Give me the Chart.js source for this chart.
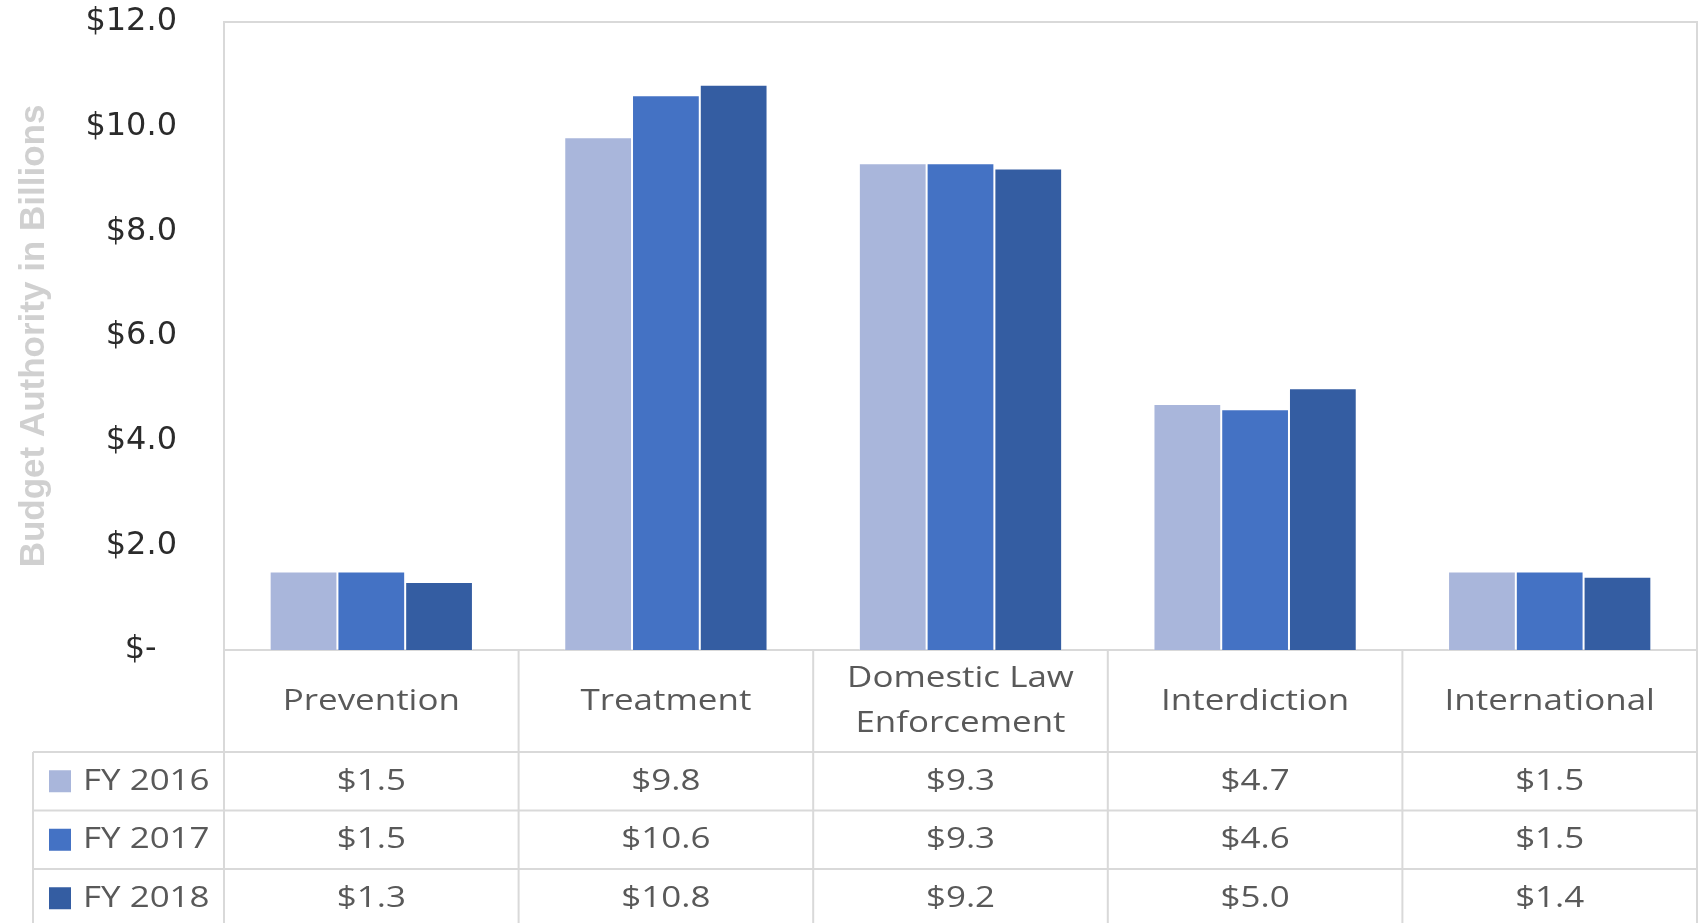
<!DOCTYPE html>
<html lang="en">
<head>
<meta charset="utf-8">
<title>Budget Authority by Function</title>
<script src="https://cdn.jsdelivr.net/npm/chart.js@4.4.1/dist/chart.umd.min.js"></script>
<style>
  html, body { margin: 0; padding: 0; background: #fff; }
  #wrap { width: 1699px; height: 923px; position: relative; }
</style>
</head>
<body>
<div id="wrap"><canvas id="orcamentoChart"></canvas></div>
<script>
// dados (bilhões de US$)
const categorias = ['Prevention', 'Treatment', 'Domestic Law Enforcement', 'Interdiction', 'International'];
const rotulosCabecalho = [['Prevention'], ['Treatment'], ['Domestic Law', 'Enforcement'], ['Interdiction'], ['International']];
const series = ['FY 2016', 'FY 2017', 'FY 2018'];
const fy2016 = [1.5, 9.8, 9.3, 4.7, 1.5];
const fy2017 = [1.5, 10.6, 9.3, 4.6, 1.5];
const fy2018 = [1.3, 10.8, 9.2, 5.0, 1.4];
const valores = [fy2016, fy2017, fy2018];
const ticksY = [0, 2, 4, 6, 8, 10, 12];

const cores  = ['#a9b6db', '#4472c4', '#345da2'];
const LINHA  = '#d9d9d9';
const TEXTO  = '#595959';
const ESTICA = 1.165;   // texto da tabela levemente alargado

const fmt = v => '$' + v.toFixed(1);

function textoEsticado(ctx, txt, x, y, align) {
  ctx.save();
  ctx.translate(x, y);
  ctx.scale(ESTICA, 1);
  ctx.textAlign = align || 'center';
  ctx.fillText(txt, 0, 0);
  ctx.restore();
}

// moldura + tabela de dados embaixo do gráfico
const tabelaDados = {
  id: 'tabelaDados',
  beforeDatasetsDraw(chart) {
    const { ctx, chartArea: a } = chart;
    ctx.save();
    ctx.strokeStyle = LINHA;
    ctx.lineWidth = 2;
    ctx.strokeRect(a.left, a.top, a.right - a.left, a.bottom - a.top);
    ctx.restore();
  },
  afterDraw(chart) {
    const { ctx, chartArea: a, scales: { x } } = chart;
    const meia     = (x.getPixelForValue(1) - x.getPixelForValue(0)) / 2;
    const topo     = a.bottom;
    const fimCab   = topo + 102;
    const altLinha = 58.5;
    const fundo    = chart.height;
    const esq      = 33;

    ctx.save();
    ctx.strokeStyle = LINHA;
    ctx.lineWidth = 2;
    ctx.beginPath();
    // horizontais
    for (let k = 0; k < series.length; k++) {
      const y = fimCab + altLinha * k;
      ctx.moveTo(esq, y);
      ctx.lineTo(a.right, y);
    }
    // verticais
    ctx.moveTo(esq, fimCab);
    ctx.lineTo(esq, fundo);
    for (let i = 0; i <= categorias.length; i++) {
      const xi = i < categorias.length ? x.getPixelForValue(i) - meia : x.getPixelForValue(i - 1) + meia;
      ctx.moveTo(xi, topo);
      ctx.lineTo(xi, fundo);
    }
    ctx.stroke();

    ctx.fillStyle = TEXTO;
    ctx.textBaseline = 'middle';
    ctx.font = '30px "Open Sans"';

    // cabeçalho com as categorias
    const cyCab = (topo + fimCab) / 2;
    rotulosCabecalho.forEach((linhas, i) => {
      const cx = x.getPixelForValue(i);
      linhas.forEach((t, j) => {
        textoEsticado(ctx, t, cx, cyCab + (j - (linhas.length - 1) / 2) * 45);
      });
    });

    // linhas de valores + legenda
    series.forEach((nome, s) => {
      const cy = fimCab + altLinha * (s + 0.5);
      ctx.fillStyle = cores[s];
      ctx.fillRect(49, cy - 11, 22, 22);
      ctx.fillStyle = TEXTO;
      textoEsticado(ctx, nome, 83, cy, 'left');
      valores[s].forEach((v, i) => textoEsticado(ctx, fmt(v), x.getPixelForValue(i), cy));
    });
    ctx.restore();
  }
};

new Chart(document.getElementById('orcamentoChart'), {
  type: 'bar',
  data: {
    labels: categorias,
    datasets: series.map((nome, i) => ({
      label: nome,
      data: valores[i],
      backgroundColor: cores[i],
      borderColor: 'rgba(255,255,255,0.35)',
      borderWidth: 1
    }))
  },
  options: {
    responsive: true,
    maintainAspectRatio: false,
    animation: false,
    layout: { padding: { top: 22, right: 2, bottom: 273, left: 0 } },
    datasets: { bar: { categoryPercentage: 0.69, barPercentage: 1 } },
    plugins: { legend: { display: false }, tooltip: { enabled: false } },
    scales: {
      x: { display: false },
      y: {
        min: ticksY[0],
        max: ticksY[ticksY.length - 1],
        afterBuildTicks: s => { s.ticks = ticksY.map(v => ({ value: v })); },
        ticks: {
          padding: 47,
          color: '#2b2b2b',
          font: { family: 'DejaVu Sans', size: 32 },
          callback: v => v === 0 ? '$-  ' : fmt(v)
        },
        grid: { display: false, drawTicks: false },
        border: { display: false },
        title: {
          display: true,
          text: 'Budget Authority in Billions',
          color: '#d0d0d0',
          font: { family: 'Liberation Sans', weight: 'bold', size: 35 },
          padding: { top: 13, bottom: 0 }
        },
        afterFit(s) {
          s.width = 224;
          // o rótulo de cima pode sair da área; sem margem extra
          s.paddingTop = 0;
          s.paddingBottom = 0;
        }
      }
    }
  },
  plugins: [tabelaDados]
});
</script>
</body>
</html>
